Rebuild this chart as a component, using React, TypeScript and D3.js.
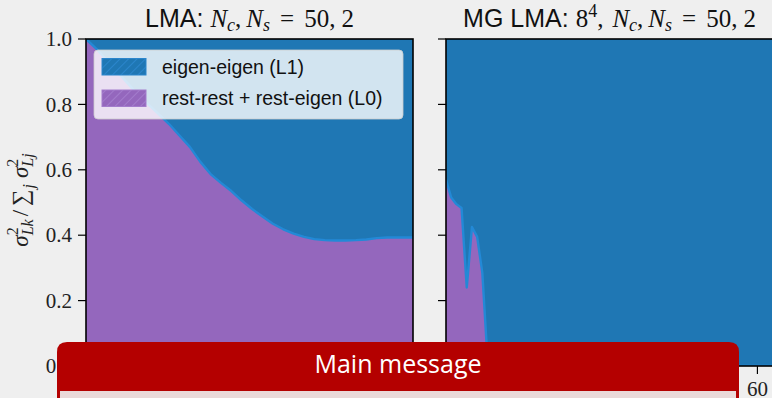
import * as d3 from "d3";

// data (x = index, value = L0 share of the variance)
const xDomain = [0, 63];
const xTicks = [0, 20, 40, 60];
const yTicks = [0, 0.2, 0.4, 0.6, 0.8, 1.0];

const lmaX = [0, 2, 4, 6, 8, 10, 12, 14, 16, 18, 20, 22, 24, 26, 28, 30, 32, 34, 36, 38, 40, 42, 44, 46, 48, 50, 52, 54, 56, 58, 60, 62, 63];
const lmaL0 = [1.0, 0.97, 0.935, 0.9, 0.865, 0.83, 0.8, 0.77, 0.74, 0.705, 0.67, 0.625, 0.587, 0.56, 0.535, 0.506, 0.48, 0.457, 0.435, 0.418, 0.405, 0.395, 0.388, 0.385, 0.384, 0.384, 0.385, 0.387, 0.391, 0.393, 0.393, 0.393, 0.393];

const mgX = [0, 1, 2, 3, 4, 5, 6, 7, 8, 9, 63];
const mgL0 = [0.57, 0.515, 0.495, 0.483, 0.24, 0.425, 0.395, 0.285, 0.02, 0, 0];

const legendLabels = ["eigen-eigen (L1)", "rest-rest + rest-eigen (L0)"];

const W = 772;
const H = 398;
const TOP = 39;
const BOTTOM = 366;
const PW = 327;
const BLUE = "#1f77b4";
const PURPLE = "#9467bd";
const EDGE = "#2389d6";
const SANS = "'Liberation Sans', Arial, sans-serif";
const SERIF = "'Liberation Serif', 'Times New Roman', serif";

function Panel({ left, xs, l0, labels, id }: any) {
  const x = d3.scaleLinear().domain(xDomain).range([left, left + PW]);
  const y = d3.scaleLinear().domain([0, 1]).range([BOTTOM, TOP]);
  const pts = xs.map((d: number, i: number) => ({ x: d, v: l0[i] }));

  const areaL0 = d3.area<any>().x(d => x(d.x)).y0(y(0)).y1(d => y(d.v));
  const areaL1 = d3.area<any>().x(d => x(d.x)).y0(d => y(d.v)).y1(y(1));
  const edge = d3.line<any>().x(d => x(d.x)).y(d => y(d.v));

  return (
    <g>
      <clipPath id={id}>
        <rect x={left} y={TOP} width={PW} height={BOTTOM - TOP} />
      </clipPath>
      <g clipPath={`url(#${id})`}>
        <path d={areaL0(pts) || ""} fill={PURPLE} />
        <path d={areaL1(pts) || ""} fill={BLUE} />
        <path d={edge(pts) || ""} fill="none" stroke={EDGE} strokeWidth={2.4} strokeLinejoin="round" />
      </g>
      {yTicks.map(t => (
        <g key={t}>
          <line x1={left - 8} x2={left} y1={y(t)} y2={y(t)} stroke="#000" strokeWidth={1.2} />
          {labels && (
            <text x={left - 14} y={y(t)} dy="0.34em" textAnchor="end" fontFamily={SERIF} fontSize={21} fill="#222">
              {t.toFixed(1)}
            </text>
          )}
        </g>
      ))}
      {xTicks.map(t => (
        <g key={t}>
          <line x1={x(t)} x2={x(t)} y1={BOTTOM} y2={BOTTOM + 8} stroke="#000" strokeWidth={1.2} />
          <text x={x(t)} y={BOTTOM + 30} textAnchor="middle" fontFamily={SERIF} fontSize={21} fill="#222">
            {t}
          </text>
        </g>
      ))}
      <rect x={left} y={TOP} width={PW} height={BOTTOM - TOP} fill="none" stroke="#000" strokeWidth={1.6} />
    </g>
  );
}

function Legend() {
  const lx = 94, ly = 50;
  return (
    <g>
      <defs>
        <pattern id="hatchBlue" width="6" height="6" patternUnits="userSpaceOnUse" patternTransform="rotate(45)">
          <rect width="6" height="6" fill={BLUE} />
          <line x1="0" y1="0" x2="0" y2="6" stroke="#2b86cc" strokeWidth="2" />
        </pattern>
        <pattern id="hatchPurple" width="6" height="6" patternUnits="userSpaceOnUse" patternTransform="rotate(45)">
          <rect width="6" height="6" fill={PURPLE} />
          <line x1="0" y1="0" x2="0" y2="6" stroke="#a37ccc" strokeWidth="2" />
        </pattern>
      </defs>
      <rect x={lx} y={ly} width={309} height={69} rx={4} fill="#fff" fillOpacity={0.8} stroke="#ccc" strokeOpacity={0.8} />
      {legendLabels.map((lab, i) => (
        <g key={lab}>
          <rect x={102} y={58.5 + i * 31.5} width={44} height={16.5}
            fill={i === 0 ? "url(#hatchBlue)" : "url(#hatchPurple)"}
            stroke={i === 0 ? "#2b86cc" : "#a37ccc"} strokeWidth={1} />
          <text x={162} y={73.5 + i * 31.5} fontFamily={SANS} fontSize={19.5} fill="#111">{lab}</text>
        </g>
      ))}
    </g>
  );
}

export default function App() {
  return (
    <svg width={W} height={H} viewBox={`0 0 ${W} ${H}`}
      style={{ position: "absolute", left: 0, top: 0, display: "block" }}>
      <rect width={W} height={H} fill="#efefef" />

      <Panel left={86} xs={lmaX} l0={lmaL0} labels={true} id="clipL" />
      <Panel left={446} xs={mgX} l0={mgL0} labels={false} id="clipR" />
      <Legend />

      {/* titles */}
      <text x={249.5} y={27} textAnchor="middle" fontSize={25} fill="#111" fontFamily={SERIF}>
        <tspan fontFamily={SANS}>{"LMA: "}</tspan>
        <tspan fontStyle="italic">N</tspan>
        <tspan fontStyle="italic" fontSize={18} dy={4}>c</tspan>
        <tspan dy={-4}>,</tspan>
        <tspan dx={5} fontStyle="italic">N</tspan>
        <tspan fontStyle="italic" fontSize={18} dy={4}>s</tspan>
        <tspan dx={10} dy={-4}>=</tspan>
        <tspan dx={10}>50,</tspan>
        <tspan dx={6}>2</tspan>
      </text>
      <text x={609.5} y={27} textAnchor="middle" fontSize={25} fill="#111" fontFamily={SERIF}>
        <tspan fontFamily={SANS}>{"MG LMA: "}</tspan>
        <tspan>8</tspan>
        <tspan fontSize={18} dy={-10}>4</tspan>
        <tspan dy={10}>,</tspan>
        <tspan dx={9} fontStyle="italic">N</tspan>
        <tspan fontStyle="italic" fontSize={18} dy={4}>c</tspan>
        <tspan dy={-4}>,</tspan>
        <tspan dx={5} fontStyle="italic">N</tspan>
        <tspan fontStyle="italic" fontSize={18} dy={4}>s</tspan>
        <tspan dx={10} dy={-4}>=</tspan>
        <tspan dx={10}>50,</tspan>
        <tspan dx={6}>2</tspan>
      </text>

      {/* y label */}
      <text transform="translate(28,200) rotate(-90)" textAnchor="middle" fontSize={23} fill="#222" fontFamily={SERIF}>
        <tspan fontStyle="italic">σ</tspan>
        <tspan fontSize={16} dy={-10}>2</tspan>
        <tspan fontStyle="italic" fontSize={16} dx={-8} dy={15}>Lk</tspan>
        <tspan dx={3} dy={-5}>/</tspan>
        <tspan dx={4}>∑</tspan>
        <tspan fontStyle="italic" fontSize={16} dx={1} dy={6}>j</tspan>
        <tspan dx={6} dy={-6} fontStyle="italic">σ</tspan>
        <tspan fontSize={16} dy={-10}>2</tspan>
        <tspan fontStyle="italic" fontSize={16} dx={-8} dy={15}>Lj</tspan>
      </text>

      {/* overlaid message box */}
      <path d="M57,398 V352 Q57,342 67,342 H729 Q739,342 739,352 V398 Z" fill="#b40000" />
      <rect x={60} y={391} width={676} height={10} fill="#ead9d9" />
      <text x={398} y={373} textAnchor="middle" fontFamily="'Open Sans', 'Noto Sans', sans-serif" fontSize={25} fill="#fff">
        Main message
      </text>
    </svg>
  );
}
